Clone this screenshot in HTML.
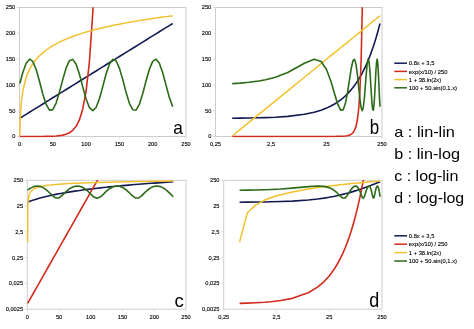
<!DOCTYPE html><html><head><meta charset="utf-8"><style>html,body{margin:0;padding:0;background:#fff;width:474px;height:329px;overflow:hidden}svg{display:block;will-change:transform}text{font-family:"Liberation Sans",sans-serif}</style></head><body>
<svg width="474" height="329" viewBox="0 0 474 329">
<defs><clipPath id="cla"><rect x="18.5" y="7.2" width="168.5" height="130.3"/></clipPath><clipPath id="clb"><rect x="214.5" y="7.2" width="168.5" height="130.3"/></clipPath><clipPath id="clc"><rect x="26.3" y="180.0" width="160.7" height="130.2"/></clipPath><clipPath id="cld"><rect x="222.7" y="180.0" width="160.3" height="130.2"/></clipPath></defs>
<rect x="19.5" y="7.5" width="166.5" height="129.0" fill="none" stroke="#cccccc" stroke-width="1"/>
<line x1="17.0" y1="136.5" x2="19.5" y2="136.5" stroke="#dadada" stroke-width="1"/>
<text x="15.3" y="138.4" font-size="5.7" text-anchor="end" fill="#000" stroke="#000" stroke-width="0.12">0</text>
<line x1="17.0" y1="110.7" x2="19.5" y2="110.7" stroke="#dadada" stroke-width="1"/>
<text x="15.3" y="112.60000000000001" font-size="5.7" text-anchor="end" fill="#000" stroke="#000" stroke-width="0.12">50</text>
<line x1="17.0" y1="84.9" x2="19.5" y2="84.9" stroke="#dadada" stroke-width="1"/>
<text x="15.3" y="86.80000000000001" font-size="5.7" text-anchor="end" fill="#000" stroke="#000" stroke-width="0.12">100</text>
<line x1="17.0" y1="59.099999999999994" x2="19.5" y2="59.099999999999994" stroke="#dadada" stroke-width="1"/>
<text x="15.3" y="60.99999999999999" font-size="5.7" text-anchor="end" fill="#000" stroke="#000" stroke-width="0.12">150</text>
<line x1="17.0" y1="33.3" x2="19.5" y2="33.3" stroke="#dadada" stroke-width="1"/>
<text x="15.3" y="35.199999999999996" font-size="5.7" text-anchor="end" fill="#000" stroke="#000" stroke-width="0.12">200</text>
<line x1="17.0" y1="7.5" x2="19.5" y2="7.5" stroke="#dadada" stroke-width="1"/>
<text x="15.3" y="9.4" font-size="5.7" text-anchor="end" fill="#000" stroke="#000" stroke-width="0.12">250</text>
<line x1="19.5" y1="136.5" x2="19.5" y2="139.0" stroke="#e2e2e2" stroke-width="1"/>
<text x="19.5" y="146.2" font-size="5.7" text-anchor="middle" fill="#000" stroke="#000" stroke-width="0.12">0</text>
<line x1="52.8" y1="136.5" x2="52.8" y2="139.0" stroke="#e2e2e2" stroke-width="1"/>
<text x="52.8" y="146.2" font-size="5.7" text-anchor="middle" fill="#000" stroke="#000" stroke-width="0.12">50</text>
<line x1="86.1" y1="136.5" x2="86.1" y2="139.0" stroke="#e2e2e2" stroke-width="1"/>
<text x="86.1" y="146.2" font-size="5.7" text-anchor="middle" fill="#000" stroke="#000" stroke-width="0.12">100</text>
<line x1="119.4" y1="136.5" x2="119.4" y2="139.0" stroke="#e2e2e2" stroke-width="1"/>
<text x="119.4" y="146.2" font-size="5.7" text-anchor="middle" fill="#000" stroke="#000" stroke-width="0.12">150</text>
<line x1="152.7" y1="136.5" x2="152.7" y2="139.0" stroke="#e2e2e2" stroke-width="1"/>
<text x="152.7" y="146.2" font-size="5.7" text-anchor="middle" fill="#000" stroke="#000" stroke-width="0.12">200</text>
<line x1="186.0" y1="136.5" x2="186.0" y2="139.0" stroke="#e2e2e2" stroke-width="1"/>
<text x="186.0" y="146.2" font-size="5.7" text-anchor="middle" fill="#000" stroke="#000" stroke-width="0.12">250</text>
<polyline clip-path="url(#cla)" points="19.83,118.23 19.97,118.15 20.17,118.03 20.50,117.82 20.83,117.61 21.50,117.20 22.83,116.38 26.16,114.31 29.49,112.25 32.82,110.18 36.15,108.12 39.48,106.06 42.81,103.99 46.14,101.93 49.47,99.86 52.80,97.80 56.13,95.74 59.46,93.67 62.79,91.61 66.12,89.54 69.45,87.48 72.78,85.42 76.11,83.35 79.44,81.29 82.77,79.22 86.10,77.16 89.43,75.10 92.76,73.03 96.09,70.97 99.42,68.90 102.75,66.84 106.08,64.78 109.41,62.71 112.74,60.65 116.07,58.58 119.40,56.52 122.73,54.46 126.06,52.39 129.39,50.33 132.72,48.26 136.05,46.20 139.38,44.14 142.71,42.07 146.04,40.01 149.37,37.94 152.70,35.88 156.03,33.82 159.36,31.75 162.69,29.69 166.02,27.62 169.35,25.56 172.68,23.50" fill="none" stroke="#121a52" stroke-width="1.6" stroke-linejoin="round"/>
<polyline clip-path="url(#cla)" points="19.83,136.50 19.97,136.50 20.17,136.50 20.50,136.50 20.83,136.50 21.50,136.50 22.83,136.50 26.16,136.49 29.49,136.49 32.82,136.48 36.15,136.47 39.48,136.46 42.81,136.43 46.14,136.39 49.47,136.31 52.80,136.19 56.13,135.99 59.46,135.67 62.79,135.13 66.12,134.24 69.45,132.77 72.78,130.35 76.11,126.36 79.44,119.78 82.77,108.93 86.10,91.04 89.43,61.54 92.76,12.92 96.09,-67.25 99.42,-199.43 102.75,-417.35 106.08,-776.64 109.41,-1369.02 112.74,-2345.68 116.07,-3955.92 119.40,-6610.75 122.73,-10987.84 126.06,-18204.43 129.39,-30102.58 132.72,-49719.32 136.05,-82061.85 139.38,-135385.68 142.71,-223301.79 146.04,-368250.97 149.37,-607231.76 152.70,-1001244.46 156.03,-1650861.59 159.36,-2721899.18 162.69,-4487741.62 166.02,-7399123.61 169.35,-12199181.04 172.68,-20113137.81" fill="none" stroke="#d42a1c" stroke-width="1.6" stroke-linejoin="round"/>
<polyline clip-path="url(#cla)" points="19.83,135.98 19.97,129.39 20.17,122.39 20.50,114.44 20.83,108.80 21.50,100.85 22.83,90.83 26.16,77.24 29.49,69.29 32.82,63.65 36.15,59.28 39.48,55.70 42.81,52.68 46.14,50.06 49.47,47.75 52.80,45.69 56.13,43.82 59.46,42.11 62.79,40.54 66.12,39.09 69.45,37.74 72.78,36.47 76.11,35.28 79.44,34.16 82.77,33.10 86.10,32.09 89.43,31.14 92.76,30.23 96.09,29.35 99.42,28.52 102.75,27.72 106.08,26.95 109.41,26.21 112.74,25.50 116.07,24.81 119.40,24.14 122.73,23.50 126.06,22.88 129.39,22.28 132.72,21.69 136.05,21.12 139.38,20.57 142.71,20.03 146.04,19.51 149.37,19.00 152.70,18.50 156.03,18.02 159.36,17.55 162.69,17.09 166.02,16.63 169.35,16.19 172.68,15.76" fill="none" stroke="#f2c12e" stroke-width="1.5" stroke-linejoin="round"/>
<polyline clip-path="url(#cla)" points="19.83,83.61 19.97,83.10 20.17,82.32 20.50,81.04 20.83,79.77 21.50,77.28 22.83,72.53 26.16,63.19 29.49,59.16 32.82,61.44 36.15,69.46 39.48,81.26 42.81,93.95 46.14,104.43 49.47,110.12 52.80,109.64 56.13,103.10 59.46,92.11 62.79,79.35 66.12,67.95 69.45,60.70 72.78,59.37 76.11,64.30 79.44,74.27 82.77,86.84 86.10,98.94 89.43,107.60 92.76,110.70 96.09,107.49 99.42,98.74 102.75,86.61 106.08,74.06 109.41,64.16 112.74,59.34 116.07,60.78 119.40,68.12 122.73,79.57 126.06,92.33 129.39,103.26 132.72,109.70 136.05,110.07 139.38,104.28 142.71,93.74 146.04,81.03 149.37,69.28 152.70,61.35 156.03,59.18 159.36,63.31 162.69,72.73 166.02,85.13 169.35,97.47 172.68,106.73" fill="none" stroke="#2b6a16" stroke-width="1.6" stroke-linejoin="round"/>
<rect x="215.5" y="7.5" width="166.5" height="129.0" fill="none" stroke="#cccccc" stroke-width="1"/>
<line x1="213.0" y1="136.5" x2="215.5" y2="136.5" stroke="#dadada" stroke-width="1"/>
<text x="211.3" y="138.4" font-size="5.7" text-anchor="end" fill="#000" stroke="#000" stroke-width="0.12">0</text>
<line x1="213.0" y1="110.7" x2="215.5" y2="110.7" stroke="#dadada" stroke-width="1"/>
<text x="211.3" y="112.60000000000001" font-size="5.7" text-anchor="end" fill="#000" stroke="#000" stroke-width="0.12">50</text>
<line x1="213.0" y1="84.9" x2="215.5" y2="84.9" stroke="#dadada" stroke-width="1"/>
<text x="211.3" y="86.80000000000001" font-size="5.7" text-anchor="end" fill="#000" stroke="#000" stroke-width="0.12">100</text>
<line x1="213.0" y1="59.099999999999994" x2="215.5" y2="59.099999999999994" stroke="#dadada" stroke-width="1"/>
<text x="211.3" y="60.99999999999999" font-size="5.7" text-anchor="end" fill="#000" stroke="#000" stroke-width="0.12">150</text>
<line x1="213.0" y1="33.3" x2="215.5" y2="33.3" stroke="#dadada" stroke-width="1"/>
<text x="211.3" y="35.199999999999996" font-size="5.7" text-anchor="end" fill="#000" stroke="#000" stroke-width="0.12">200</text>
<line x1="213.0" y1="7.5" x2="215.5" y2="7.5" stroke="#dadada" stroke-width="1"/>
<text x="211.3" y="9.4" font-size="5.7" text-anchor="end" fill="#000" stroke="#000" stroke-width="0.12">250</text>
<line x1="215.5" y1="136.5" x2="215.5" y2="139.0" stroke="#e2e2e2" stroke-width="1"/>
<text x="215.5" y="146.2" font-size="5.7" text-anchor="middle" fill="#000" stroke="#000" stroke-width="0.12">0,25</text>
<line x1="271.0" y1="136.5" x2="271.0" y2="139.0" stroke="#e2e2e2" stroke-width="1"/>
<text x="271.0" y="146.2" font-size="5.7" text-anchor="middle" fill="#000" stroke="#000" stroke-width="0.12">2,5</text>
<line x1="326.5" y1="136.5" x2="326.5" y2="139.0" stroke="#e2e2e2" stroke-width="1"/>
<text x="326.5" y="146.2" font-size="5.7" text-anchor="middle" fill="#000" stroke="#000" stroke-width="0.12">25</text>
<line x1="382.0" y1="136.5" x2="382.0" y2="139.0" stroke="#e2e2e2" stroke-width="1"/>
<text x="382.0" y="146.2" font-size="5.7" text-anchor="middle" fill="#000" stroke="#000" stroke-width="0.12">250</text>
<polyline clip-path="url(#clb)" points="232.21,118.23 240.32,118.15 248.91,118.03 258.69,117.82 265.62,117.61 275.39,117.20 287.71,116.38 304.41,114.31 314.19,112.25 321.12,110.18 326.50,108.12 330.89,106.06 334.61,103.99 337.83,101.93 340.67,99.86 343.21,97.80 345.50,95.74 347.60,93.67 349.53,91.61 351.32,89.54 352.98,87.48 354.54,85.42 356.00,83.35 357.37,81.29 358.68,79.22 359.91,77.16 361.09,75.10 362.21,73.03 363.28,70.97 364.31,68.90 365.29,66.84 366.24,64.78 367.15,62.71 368.02,60.65 368.87,58.58 369.69,56.52 370.48,54.46 371.24,52.39 371.98,50.33 372.70,48.26 373.40,46.20 374.08,44.14 374.74,42.07 375.39,40.01 376.01,37.94 376.62,35.88 377.22,33.82 377.80,31.75 378.36,29.69 378.92,27.62 379.46,25.56 379.99,23.50" fill="none" stroke="#121a52" stroke-width="1.6" stroke-linejoin="round"/>
<polyline clip-path="url(#clb)" points="232.21,136.50 240.32,136.50 248.91,136.50 258.69,136.50 265.62,136.50 275.39,136.50 287.71,136.50 304.41,136.49 314.19,136.49 321.12,136.48 326.50,136.47 330.89,136.46 334.61,136.43 337.83,136.39 340.67,136.31 343.21,136.19 345.50,135.99 347.60,135.67 349.53,135.13 351.32,134.24 352.98,132.77 354.54,130.35 356.00,126.36 357.37,119.78 358.68,108.93 359.91,91.04 361.09,61.54 362.21,12.92 363.28,-67.25 364.31,-199.43 365.29,-417.35 366.24,-776.64 367.15,-1369.02 368.02,-2345.68 368.87,-3955.92 369.69,-6610.75 370.48,-10987.84 371.24,-18204.43 371.98,-30102.58 372.70,-49719.32 373.40,-82061.85 374.08,-135385.68 374.74,-223301.79 375.39,-368250.97 376.01,-607231.76 376.62,-1001244.46 377.22,-1650861.59 377.80,-2721899.18 378.36,-4487741.62 378.92,-7399123.61 379.46,-12199181.04 379.99,-20113137.81" fill="none" stroke="#d42a1c" stroke-width="1.6" stroke-linejoin="round"/>
<polyline clip-path="url(#clb)" points="232.21,135.98 240.32,129.39 248.91,122.39 258.69,114.44 265.62,108.80 275.39,100.85 287.71,90.83 304.41,77.24 314.19,69.29 321.12,63.65 326.50,59.28 330.89,55.70 334.61,52.68 337.83,50.06 340.67,47.75 343.21,45.69 345.50,43.82 347.60,42.11 349.53,40.54 351.32,39.09 352.98,37.74 354.54,36.47 356.00,35.28 357.37,34.16 358.68,33.10 359.91,32.09 361.09,31.14 362.21,30.23 363.28,29.35 364.31,28.52 365.29,27.72 366.24,26.95 367.15,26.21 368.02,25.50 368.87,24.81 369.69,24.14 370.48,23.50 371.24,22.88 371.98,22.28 372.70,21.69 373.40,21.12 374.08,20.57 374.74,20.03 375.39,19.51 376.01,19.00 376.62,18.50 377.22,18.02 377.80,17.55 378.36,17.09 378.92,16.63 379.46,16.19 379.99,15.76" fill="none" stroke="#f2c12e" stroke-width="1.5" stroke-linejoin="round"/>
<polyline clip-path="url(#clb)" points="232.21,83.61 240.32,83.10 248.91,82.32 258.69,81.04 265.62,79.77 275.39,77.28 287.71,72.53 304.41,63.19 314.19,59.16 321.12,61.44 326.50,69.46 330.89,81.26 334.61,93.95 337.83,104.43 340.67,110.12 343.21,109.64 345.50,103.10 347.60,92.11 349.53,79.35 351.32,67.95 352.98,60.70 354.54,59.37 356.00,64.30 357.37,74.27 358.68,86.84 359.91,98.94 361.09,107.60 362.21,110.70 363.28,107.49 364.31,98.74 365.29,86.61 366.24,74.06 367.15,64.16 368.02,59.34 368.87,60.78 369.69,68.12 370.48,79.57 371.24,92.33 371.98,103.26 372.70,109.70 373.40,110.07 374.08,104.28 374.74,93.74 375.39,81.03 376.01,69.28 376.62,61.35 377.22,59.18 377.80,63.31 378.36,72.73 378.92,85.13 379.46,97.47 379.99,106.73" fill="none" stroke="#2b6a16" stroke-width="1.6" stroke-linejoin="round"/>
<rect x="27.3" y="180.3" width="158.7" height="128.89999999999998" fill="none" stroke="#cccccc" stroke-width="1"/>
<line x1="24.8" y1="309.2" x2="27.3" y2="309.2" stroke="#dadada" stroke-width="1"/>
<text x="23.1" y="311.09999999999997" font-size="5.7" text-anchor="end" fill="#000" stroke="#000" stroke-width="0.12">0,0025</text>
<line x1="24.8" y1="283.42" x2="27.3" y2="283.42" stroke="#dadada" stroke-width="1"/>
<text x="23.1" y="285.32" font-size="5.7" text-anchor="end" fill="#000" stroke="#000" stroke-width="0.12">0,025</text>
<line x1="24.8" y1="257.64" x2="27.3" y2="257.64" stroke="#dadada" stroke-width="1"/>
<text x="23.1" y="259.53999999999996" font-size="5.7" text-anchor="end" fill="#000" stroke="#000" stroke-width="0.12">0,25</text>
<line x1="24.8" y1="231.86" x2="27.3" y2="231.86" stroke="#dadada" stroke-width="1"/>
<text x="23.1" y="233.76000000000002" font-size="5.7" text-anchor="end" fill="#000" stroke="#000" stroke-width="0.12">2,5</text>
<line x1="24.8" y1="206.08" x2="27.3" y2="206.08" stroke="#dadada" stroke-width="1"/>
<text x="23.1" y="207.98000000000002" font-size="5.7" text-anchor="end" fill="#000" stroke="#000" stroke-width="0.12">25</text>
<line x1="24.8" y1="180.3" x2="27.3" y2="180.3" stroke="#dadada" stroke-width="1"/>
<text x="23.1" y="182.20000000000002" font-size="5.7" text-anchor="end" fill="#000" stroke="#000" stroke-width="0.12">250</text>
<line x1="27.3" y1="309.2" x2="27.3" y2="311.7" stroke="#e2e2e2" stroke-width="1"/>
<text x="27.3" y="318.9" font-size="5.7" text-anchor="middle" fill="#000" stroke="#000" stroke-width="0.12">0</text>
<line x1="59.03999999999999" y1="309.2" x2="59.03999999999999" y2="311.7" stroke="#e2e2e2" stroke-width="1"/>
<text x="59.03999999999999" y="318.9" font-size="5.7" text-anchor="middle" fill="#000" stroke="#000" stroke-width="0.12">50</text>
<line x1="90.77999999999999" y1="309.2" x2="90.77999999999999" y2="311.7" stroke="#e2e2e2" stroke-width="1"/>
<text x="90.77999999999999" y="318.9" font-size="5.7" text-anchor="middle" fill="#000" stroke="#000" stroke-width="0.12">100</text>
<line x1="122.52" y1="309.2" x2="122.52" y2="311.7" stroke="#e2e2e2" stroke-width="1"/>
<text x="122.52" y="318.9" font-size="5.7" text-anchor="middle" fill="#000" stroke="#000" stroke-width="0.12">150</text>
<line x1="154.26" y1="309.2" x2="154.26" y2="311.7" stroke="#e2e2e2" stroke-width="1"/>
<text x="154.26" y="318.9" font-size="5.7" text-anchor="middle" fill="#000" stroke="#000" stroke-width="0.12">200</text>
<line x1="186.0" y1="309.2" x2="186.0" y2="311.7" stroke="#e2e2e2" stroke-width="1"/>
<text x="186.0" y="318.9" font-size="5.7" text-anchor="middle" fill="#000" stroke="#000" stroke-width="0.12">250</text>
<polyline clip-path="url(#clc)" points="27.62,202.19 27.74,202.14 27.93,202.06 28.25,201.94 28.57,201.81 29.20,201.57 30.47,201.10 33.65,200.01 36.82,199.01 40.00,198.10 43.17,197.25 46.34,196.47 49.52,195.73 52.69,195.04 55.87,194.39 59.04,193.78 62.21,193.20 65.39,192.65 68.56,192.12 71.74,191.61 74.91,191.13 78.08,190.67 81.26,190.23 84.43,189.80 87.61,189.39 90.78,188.99 93.95,188.61 97.13,188.24 100.30,187.88 103.48,187.54 106.65,187.20 109.82,186.87 113.00,186.55 116.17,186.25 119.35,185.94 122.52,185.65 125.69,185.37 128.87,185.09 132.04,184.82 135.22,184.55 138.39,184.29 141.56,184.04 144.74,183.79 147.91,183.55 151.09,183.31 154.26,183.08 157.43,182.85 160.61,182.63 163.78,182.41 166.96,182.20 170.13,181.99 173.30,181.78" fill="none" stroke="#121a52" stroke-width="1.6" stroke-linejoin="round"/>
<polyline clip-path="url(#clc)" points="27.62,303.38 27.74,303.15 27.93,302.82 28.25,302.26 28.57,301.70 29.20,300.58 30.47,298.34 33.65,292.74 36.82,287.14 40.00,281.55 43.17,275.95 46.34,270.35 49.52,264.75 52.69,259.15 55.87,253.56 59.04,247.96 62.21,242.36 65.39,236.76 68.56,231.16 71.74,225.57 74.91,219.97 78.08,214.37 81.26,208.77 84.43,203.17 87.61,197.57 90.78,191.98 93.95,186.38 97.13,180.78 100.30,175.18 103.48,169.58 106.65,163.99 109.82,158.39 113.00,152.79 116.17,147.19 119.35,141.59 122.52,136.00 125.69,130.40 128.87,124.80 132.04,119.20 135.22,113.60 138.39,108.01 141.56,102.41 144.74,96.81 147.91,91.21 151.09,85.61 154.26,80.02 157.43,74.42 160.61,68.82 163.78,63.22 166.96,57.62 170.13,52.03 173.30,46.43" fill="none" stroke="#d42a1c" stroke-width="1.6" stroke-linejoin="round"/>
<polyline clip-path="url(#clc)" points="27.62,242.12 27.74,212.74 27.93,205.08 28.25,200.07 28.57,197.52 29.20,194.70 30.47,191.93 33.65,189.01 36.82,187.60 40.00,186.70 43.17,186.04 46.34,185.54 49.52,185.13 52.69,184.78 55.87,184.49 59.04,184.23 62.21,184.00 65.39,183.80 68.56,183.61 71.74,183.44 74.91,183.29 78.08,183.15 81.26,183.02 84.43,182.89 87.61,182.78 90.78,182.67 93.95,182.57 97.13,182.47 100.30,182.38 103.48,182.29 106.65,182.21 109.82,182.13 113.00,182.05 116.17,181.98 119.35,181.91 122.52,181.85 125.69,181.78 128.87,181.72 132.04,181.66 135.22,181.60 138.39,181.55 141.56,181.50 144.74,181.44 147.91,181.39 151.09,181.35 154.26,181.30 157.43,181.25 160.61,181.21 163.78,181.16 166.96,181.12 170.13,181.08 173.30,181.04" fill="none" stroke="#f2c12e" stroke-width="1.5" stroke-linejoin="round"/>
<polyline clip-path="url(#clc)" points="27.62,190.28 27.74,190.17 27.93,190.01 28.25,189.75 28.57,189.50 29.20,189.02 30.47,188.15 33.65,186.63 36.82,186.03 40.00,186.36 43.17,187.63 46.34,189.80 49.52,192.72 52.69,195.88 55.87,198.07 59.04,197.87 62.21,195.43 65.39,192.24 68.56,189.42 71.74,187.38 74.91,186.25 78.08,186.06 81.26,186.80 84.43,188.46 87.61,190.99 90.78,194.11 93.95,197.05 97.13,198.32 100.30,197.01 103.48,194.06 106.65,190.94 109.82,188.42 113.00,186.78 116.17,186.05 119.35,186.26 122.52,187.41 125.69,189.46 128.87,192.30 132.04,195.48 135.22,197.90 138.39,198.05 141.56,195.83 144.74,192.66 147.91,189.75 151.09,187.60 154.26,186.35 157.43,186.03 160.61,186.65 163.78,188.19 166.96,190.61 170.13,193.68 173.30,196.72" fill="none" stroke="#2b6a16" stroke-width="1.6" stroke-linejoin="round"/>
<rect x="223.7" y="180.3" width="158.3" height="128.89999999999998" fill="none" stroke="#cccccc" stroke-width="1"/>
<line x1="221.2" y1="309.2" x2="223.7" y2="309.2" stroke="#dadada" stroke-width="1"/>
<text x="219.5" y="311.09999999999997" font-size="5.7" text-anchor="end" fill="#000" stroke="#000" stroke-width="0.12">0,0025</text>
<line x1="221.2" y1="283.42" x2="223.7" y2="283.42" stroke="#dadada" stroke-width="1"/>
<text x="219.5" y="285.32" font-size="5.7" text-anchor="end" fill="#000" stroke="#000" stroke-width="0.12">0,025</text>
<line x1="221.2" y1="257.64" x2="223.7" y2="257.64" stroke="#dadada" stroke-width="1"/>
<text x="219.5" y="259.53999999999996" font-size="5.7" text-anchor="end" fill="#000" stroke="#000" stroke-width="0.12">0,25</text>
<line x1="221.2" y1="231.86" x2="223.7" y2="231.86" stroke="#dadada" stroke-width="1"/>
<text x="219.5" y="233.76000000000002" font-size="5.7" text-anchor="end" fill="#000" stroke="#000" stroke-width="0.12">2,5</text>
<line x1="221.2" y1="206.08" x2="223.7" y2="206.08" stroke="#dadada" stroke-width="1"/>
<text x="219.5" y="207.98000000000002" font-size="5.7" text-anchor="end" fill="#000" stroke="#000" stroke-width="0.12">25</text>
<line x1="221.2" y1="180.3" x2="223.7" y2="180.3" stroke="#dadada" stroke-width="1"/>
<text x="219.5" y="182.20000000000002" font-size="5.7" text-anchor="end" fill="#000" stroke="#000" stroke-width="0.12">250</text>
<line x1="223.7" y1="309.2" x2="223.7" y2="311.7" stroke="#e2e2e2" stroke-width="1"/>
<text x="223.7" y="318.9" font-size="5.7" text-anchor="middle" fill="#000" stroke="#000" stroke-width="0.12">0,25</text>
<line x1="276.46666666666664" y1="309.2" x2="276.46666666666664" y2="311.7" stroke="#e2e2e2" stroke-width="1"/>
<text x="276.46666666666664" y="318.9" font-size="5.7" text-anchor="middle" fill="#000" stroke="#000" stroke-width="0.12">2,5</text>
<line x1="329.23333333333335" y1="309.2" x2="329.23333333333335" y2="311.7" stroke="#e2e2e2" stroke-width="1"/>
<text x="329.23333333333335" y="318.9" font-size="5.7" text-anchor="middle" fill="#000" stroke="#000" stroke-width="0.12">25</text>
<line x1="382.0" y1="309.2" x2="382.0" y2="311.7" stroke="#e2e2e2" stroke-width="1"/>
<text x="382.0" y="318.9" font-size="5.7" text-anchor="middle" fill="#000" stroke="#000" stroke-width="0.12">250</text>
<polyline clip-path="url(#cld)" points="239.58,202.19 247.30,202.14 255.47,202.06 264.76,201.94 271.35,201.81 280.64,201.57 292.35,201.10 308.24,200.01 317.53,199.01 324.12,198.10 329.23,197.25 333.41,196.47 336.94,195.73 340.00,195.04 342.70,194.39 345.12,193.78 347.30,193.20 349.30,192.65 351.13,192.12 352.83,191.61 354.41,191.13 355.89,190.67 357.28,190.23 358.59,189.80 359.83,189.39 361.00,188.99 362.12,188.61 363.19,188.24 364.20,187.88 365.18,187.54 366.12,187.20 367.01,186.87 367.88,186.55 368.71,186.25 369.52,185.94 370.29,185.65 371.05,185.37 371.77,185.09 372.48,184.82 373.16,184.55 373.83,184.29 374.47,184.04 375.10,183.79 375.71,183.55 376.31,183.31 376.89,183.08 377.45,182.85 378.00,182.63 378.54,182.41 379.07,182.20 379.59,181.99 380.09,181.78" fill="none" stroke="#121a52" stroke-width="1.6" stroke-linejoin="round"/>
<polyline clip-path="url(#cld)" points="239.58,303.38 247.30,303.15 255.47,302.82 264.76,302.26 271.35,301.70 280.64,300.58 292.35,298.34 308.24,292.74 317.53,287.14 324.12,281.55 329.23,275.95 333.41,270.35 336.94,264.75 340.00,259.15 342.70,253.56 345.12,247.96 347.30,242.36 349.30,236.76 351.13,231.16 352.83,225.57 354.41,219.97 355.89,214.37 357.28,208.77 358.59,203.17 359.83,197.57 361.00,191.98 362.12,186.38 363.19,180.78 364.20,175.18 365.18,169.58 366.12,163.99 367.01,158.39 367.88,152.79 368.71,147.19 369.52,141.59 370.29,136.00 371.05,130.40 371.77,124.80 372.48,119.20 373.16,113.60 373.83,108.01 374.47,102.41 375.10,96.81 375.71,91.21 376.31,85.61 376.89,80.02 377.45,74.42 378.00,68.82 378.54,63.22 379.07,57.62 379.59,52.03 380.09,46.43" fill="none" stroke="#d42a1c" stroke-width="1.6" stroke-linejoin="round"/>
<polyline clip-path="url(#cld)" points="239.58,242.12 247.30,212.74 255.47,205.08 264.76,200.07 271.35,197.52 280.64,194.70 292.35,191.93 308.24,189.01 317.53,187.60 324.12,186.70 329.23,186.04 333.41,185.54 336.94,185.13 340.00,184.78 342.70,184.49 345.12,184.23 347.30,184.00 349.30,183.80 351.13,183.61 352.83,183.44 354.41,183.29 355.89,183.15 357.28,183.02 358.59,182.89 359.83,182.78 361.00,182.67 362.12,182.57 363.19,182.47 364.20,182.38 365.18,182.29 366.12,182.21 367.01,182.13 367.88,182.05 368.71,181.98 369.52,181.91 370.29,181.85 371.05,181.78 371.77,181.72 372.48,181.66 373.16,181.60 373.83,181.55 374.47,181.50 375.10,181.44 375.71,181.39 376.31,181.35 376.89,181.30 377.45,181.25 378.00,181.21 378.54,181.16 379.07,181.12 379.59,181.08 380.09,181.04" fill="none" stroke="#f2c12e" stroke-width="1.5" stroke-linejoin="round"/>
<polyline clip-path="url(#cld)" points="239.58,190.28 247.30,190.17 255.47,190.01 264.76,189.75 271.35,189.50 280.64,189.02 292.35,188.15 308.24,186.63 317.53,186.03 324.12,186.36 329.23,187.63 333.41,189.80 336.94,192.72 340.00,195.88 342.70,198.07 345.12,197.87 347.30,195.43 349.30,192.24 351.13,189.42 352.83,187.38 354.41,186.25 355.89,186.06 357.28,186.80 358.59,188.46 359.83,190.99 361.00,194.11 362.12,197.05 363.19,198.32 364.20,197.01 365.18,194.06 366.12,190.94 367.01,188.42 367.88,186.78 368.71,186.05 369.52,186.26 370.29,187.41 371.05,189.46 371.77,192.30 372.48,195.48 373.16,197.90 373.83,198.05 374.47,195.83 375.10,192.66 375.71,189.75 376.31,187.60 376.89,186.35 377.45,186.03 378.00,186.65 378.54,188.19 379.07,190.61 379.59,193.68 380.09,196.72" fill="none" stroke="#2b6a16" stroke-width="1.6" stroke-linejoin="round"/>
<text x="173.3" y="133.5" font-size="19" textLength="9.6" lengthAdjust="spacingAndGlyphs" fill="#000">a</text>
<text x="369.8" y="134" font-size="19.5" textLength="9.4" lengthAdjust="spacingAndGlyphs" fill="#000">b</text>
<text x="174.4" y="307" font-size="19" textLength="9.3" lengthAdjust="spacingAndGlyphs" fill="#000">c</text>
<text x="369.3" y="307" font-size="20" textLength="10" lengthAdjust="spacingAndGlyphs" fill="#000">d</text>
<line x1="394.3" y1="63.2" x2="407" y2="63.2" stroke="#121a52" stroke-width="1.5"/>
<text x="408.8" y="65.4" font-size="5.8" fill="#000" stroke="#000" stroke-width="0.12">0.8x + 3,5</text>
<line x1="394.3" y1="71.4" x2="407" y2="71.4" stroke="#d42a1c" stroke-width="1.5"/>
<text x="408.8" y="73.60000000000001" font-size="5.8" fill="#000" stroke="#000" stroke-width="0.12">exp(x/10) / 250</text>
<line x1="394.3" y1="79.6" x2="407" y2="79.6" stroke="#f2c12e" stroke-width="1.5"/>
<text x="408.8" y="81.8" font-size="5.8" fill="#000" stroke="#000" stroke-width="0.12">1 + 38.ln(2x)</text>
<line x1="394.3" y1="87.8" x2="407" y2="87.8" stroke="#2b6a16" stroke-width="1.5"/>
<text x="408.8" y="90.0" font-size="5.8" fill="#000" stroke="#000" stroke-width="0.12">100 + 50.sin(0.1.x)</text>
<line x1="394.3" y1="235.8" x2="407" y2="235.8" stroke="#121a52" stroke-width="1.5"/>
<text x="408.8" y="238.0" font-size="5.8" fill="#000" stroke="#000" stroke-width="0.12">0.8x + 3,5</text>
<line x1="394.3" y1="244.20000000000002" x2="407" y2="244.20000000000002" stroke="#d42a1c" stroke-width="1.5"/>
<text x="408.8" y="246.4" font-size="5.8" fill="#000" stroke="#000" stroke-width="0.12">exp(x/10) / 250</text>
<line x1="394.3" y1="252.60000000000002" x2="407" y2="252.60000000000002" stroke="#f2c12e" stroke-width="1.5"/>
<text x="408.8" y="254.8" font-size="5.8" fill="#000" stroke="#000" stroke-width="0.12">1 + 38.ln(2x)</text>
<line x1="394.3" y1="261.0" x2="407" y2="261.0" stroke="#2b6a16" stroke-width="1.5"/>
<text x="408.8" y="263.2" font-size="5.8" fill="#000" stroke="#000" stroke-width="0.12">100 + 50.sin(0,1.x)</text>
<text x="394.3" y="136.9" font-size="14.5" textLength="60.6" lengthAdjust="spacingAndGlyphs" fill="#000">a : lin-lin</text>
<text x="394.3" y="158.5" font-size="14.5" textLength="65.6" lengthAdjust="spacingAndGlyphs" fill="#000">b : lin-log</text>
<text x="394.3" y="181" font-size="14.5" textLength="64" lengthAdjust="spacingAndGlyphs" fill="#000">c : log-lin</text>
<text x="394.3" y="202.5" font-size="14.5" textLength="69.9" lengthAdjust="spacingAndGlyphs" fill="#000">d : log-log</text>
</svg></body></html>
